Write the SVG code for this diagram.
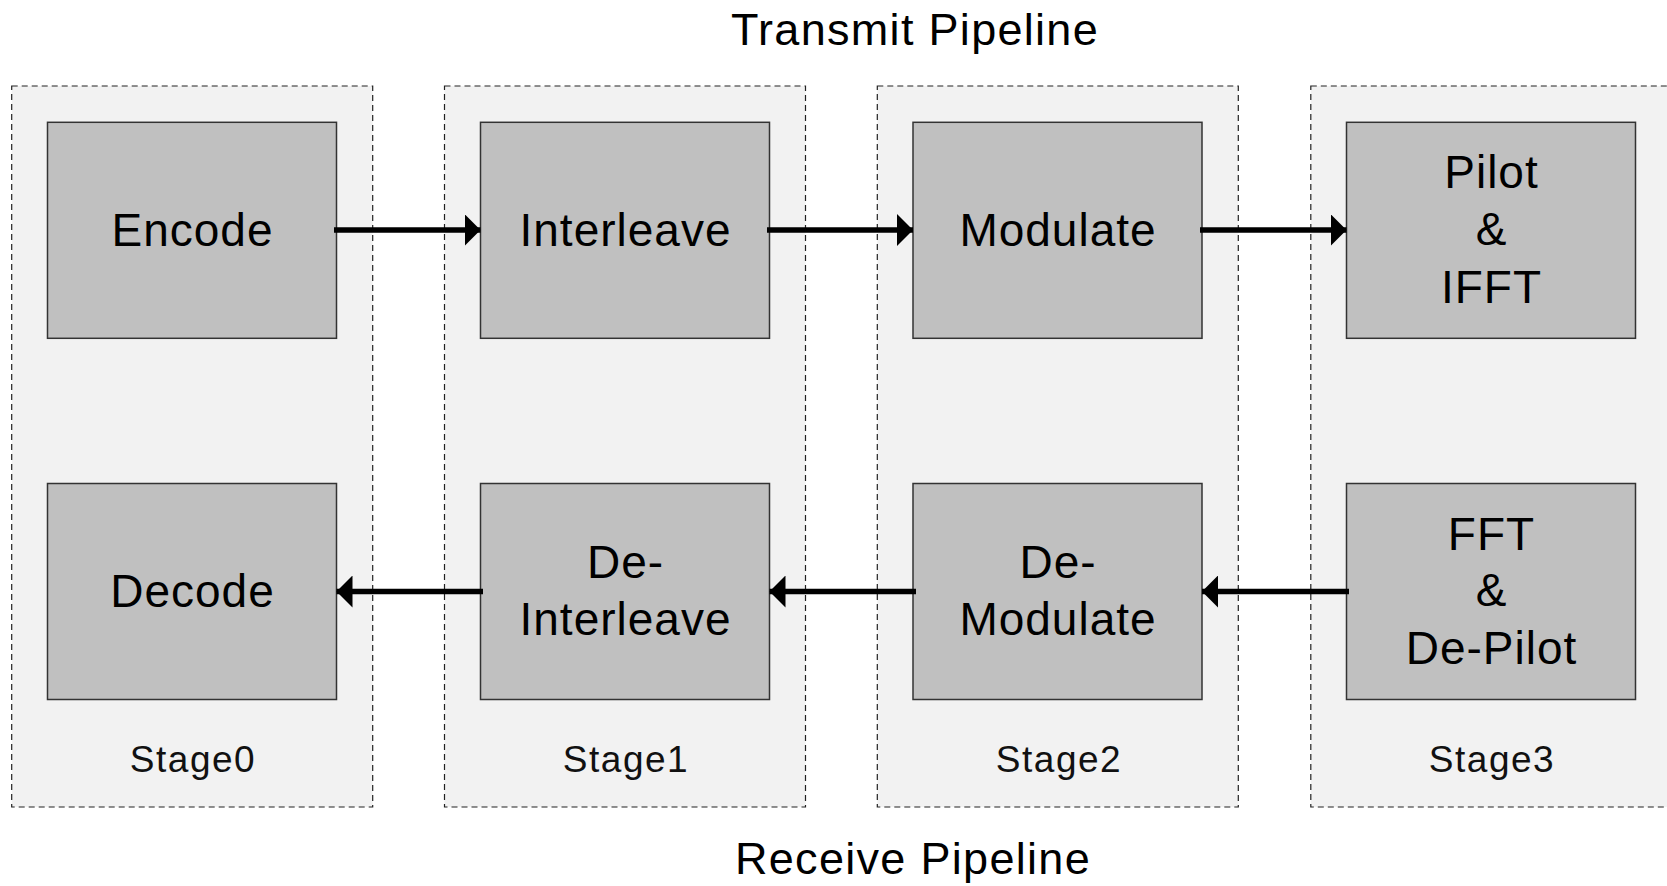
<svg xmlns="http://www.w3.org/2000/svg" width="1667" height="886" viewBox="0 0 1667 886">
<style>
.stage{fill:#f2f2f2;stroke:#222;stroke-width:1.2;stroke-dasharray:6 4}
.node{fill:#c0c0c0;stroke:#333;stroke-width:1.5}
.t{font-family:"Liberation Sans",Arial,sans-serif;fill:#000;text-anchor:middle}
.big{font-size:46px;letter-spacing:1px}
.lab{font-size:37px;fill:#111;letter-spacing:1.5px}
.title{font-size:45px;letter-spacing:1.3px}
.conn{stroke:#000;stroke-width:5.5;fill:none;marker-end:url(#ah)}
</style>
<defs>
<marker id="ah" markerUnits="userSpaceOnUse" markerWidth="17" markerHeight="32" refX="16" refY="16" orient="auto" viewBox="0 0 17 32">
<path d="M0,0 L16,16 L0,32 Z" fill="#000"/>
</marker>
</defs>
<rect width="1667" height="886" fill="#fff"/>
<text class="t title" x="915" y="45">Transmit Pipeline</text>
<text class="t title" x="913" y="874">Receive Pipeline</text>
<g id="stage0"><rect class="stage" x="11.7" y="86" width="361" height="721"/><text class="t lab" x="193" y="772">Stage0</text></g>
<g id="stage1"><rect class="stage" x="444.5" y="86" width="361" height="721"/><text class="t lab" x="626" y="772">Stage1</text></g>
<g id="stage2"><rect class="stage" x="877.3" y="86" width="361" height="721"/><text class="t lab" x="1059" y="772">Stage2</text></g>
<g id="stage3"><rect class="stage" x="1310.8" y="86" width="361" height="721"/><text class="t lab" x="1492" y="772">Stage3</text></g>
<g id="encode"><rect class="node" x="47.5" y="122.3" width="289" height="216"/><text class="t big" x="192.5" y="245.5">Encode</text></g>
<g id="interleave"><rect class="node" x="480.5" y="122.3" width="289" height="216"/><text class="t big" x="625.5" y="245.5">Interleave</text></g>
<g id="modulate"><rect class="node" x="913" y="122.3" width="289" height="216"/><text class="t big" x="1058" y="245.5">Modulate</text></g>
<g id="pilot-ifft"><rect class="node" x="1346.5" y="122.3" width="289" height="216"/><text class="t big" x="1491.5" y="187.5">Pilot</text><text class="t big" x="1491.5" y="245">&amp;</text><text class="t big" x="1491.5" y="302.5">IFFT</text></g>
<g id="decode"><rect class="node" x="47.5" y="483.5" width="289" height="216"/><text class="t big" x="192.5" y="606.5">Decode</text></g>
<g id="deinterleave"><rect class="node" x="480.5" y="483.5" width="289" height="216"/><text class="t big" x="625.5" y="578">De-</text><text class="t big" x="625.5" y="635">Interleave</text></g>
<g id="demodulate"><rect class="node" x="913" y="483.5" width="289" height="216"/><text class="t big" x="1058" y="578">De-</text><text class="t big" x="1058" y="635">Modulate</text></g>
<g id="fft-depilot"><rect class="node" x="1346.5" y="483.5" width="289" height="216"/><text class="t big" x="1491.5" y="549.5">FFT</text><text class="t big" x="1491.5" y="606">&amp;</text><text class="t big" x="1491.5" y="663.5">De-Pilot</text></g>
<g id="connectors">
<line class="conn" x1="334" y1="230" x2="480.5" y2="230"/>
<line class="conn" x1="767" y1="230" x2="913" y2="230"/>
<line class="conn" x1="1200" y1="230" x2="1346.5" y2="230"/>
<line class="conn" x1="1349" y1="591.5" x2="1202" y2="591.5"/>
<line class="conn" x1="916" y1="591.5" x2="769.5" y2="591.5"/>
<line class="conn" x1="483" y1="591.5" x2="336.5" y2="591.5"/>
</g>
</svg>
